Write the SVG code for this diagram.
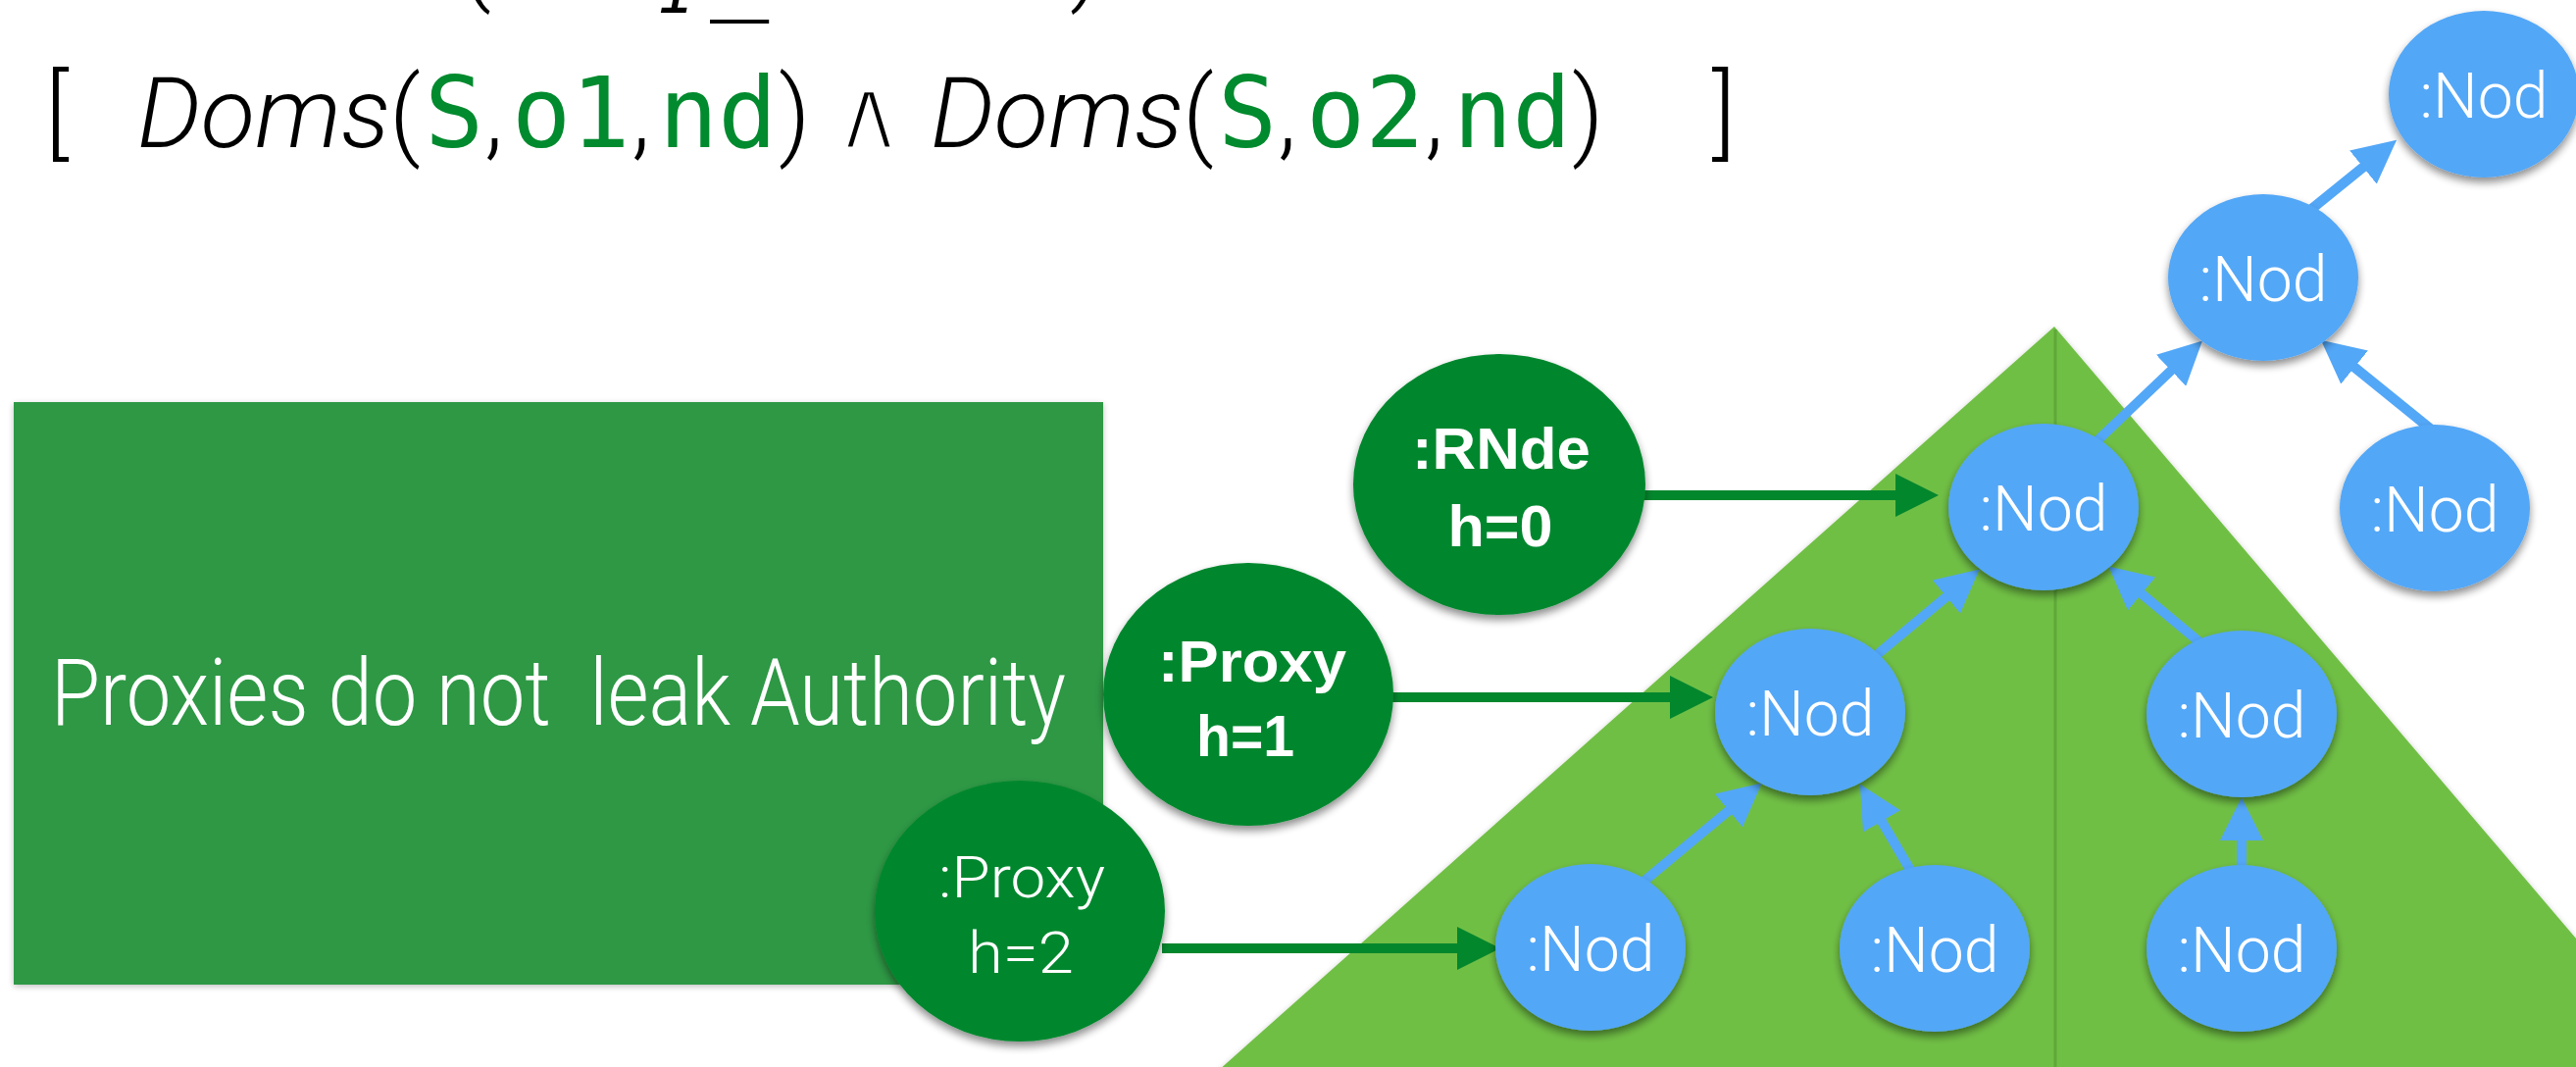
<svg xmlns="http://www.w3.org/2000/svg" width="2627" height="1088" viewBox="0 0 2627 1088">
  <defs>
    <style>
      .f-light { font-family: Roboto, "Liberation Sans", sans-serif; font-weight: 300; }
      .f-bold { font-family: "Liberation Sans", Arial, sans-serif; font-weight: bold; }
      .f-mono { font-family: "DejaVu Sans Mono", "Liberation Mono", monospace; }
      .formula { font-size: 100px; fill: #000; }
      .var { fill: #028A2E; }
      .nod { fill: #53A7F7; filter: url(#shadow); }
      .agent { fill: #03872D; filter: url(#shadow); }
      .label { fill: #fff; text-anchor: middle; }
      .blue-edge { stroke: #53A7F7; stroke-width: 10; fill: none; marker-end: url(#head-blue); }
      .green-edge { stroke: #03872D; stroke-width: 10; fill: none; marker-end: url(#head-green); }
    </style>
    <filter id="shadow" x="-20%" y="-20%" width="140%" height="150%">
      <feGaussianBlur in="SourceAlpha" stdDeviation="4"/>
      <feOffset dy="5" result="blur"/>
      <feComponentTransfer><feFuncA type="linear" slope="0.45"/></feComponentTransfer>
      <feMerge><feMergeNode/><feMergeNode in="SourceGraphic"/></feMerge>
    </filter>
    <filter id="soft" x="-5%" y="-5%" width="110%" height="110%">
      <feGaussianBlur in="SourceAlpha" stdDeviation="3"/>
      <feOffset dy="2"/>
      <feComponentTransfer><feFuncA type="linear" slope="0.25"/></feComponentTransfer>
      <feMerge><feMergeNode/><feMergeNode in="SourceGraphic"/></feMerge>
    </filter>
    <marker id="head-blue" viewBox="0 0 44 44" markerWidth="44" markerHeight="44" markerUnits="userSpaceOnUse" refX="4" refY="22" orient="auto">
      <path d="M0,0 L44,22 L0,44 z" fill="#53A7F7"/>
    </marker>
    <marker id="head-green" viewBox="0 0 44 44" markerWidth="44" markerHeight="44" markerUnits="userSpaceOnUse" refX="4" refY="22" orient="auto">
      <path d="M0,0 L44,22 L0,44 z" fill="#03872D"/>
    </marker>
  </defs>

  <rect width="2627" height="1088" fill="#fff"/>

  <!-- lower edge of the line above the formula -->
  <g id="line-above" class="formula">
    <text x="469" y="-8" class="f-light" font-size="100">(</text>
    <text x="670" y="13" class="f-mono" font-size="64" font-style="italic">1</text>
    <text x="724" y="0" class="f-mono" font-size="100">_</text>
    <text x="1091" y="-8" class="f-light" font-size="100">)</text>
  </g>

  <!-- formula -->
  <g id="formula" class="formula">
    <text x="46" y="150" class="f-light">[</text>
    <text x="140" y="150" class="f-light" font-style="italic" textLength="258" lengthAdjust="spacingAndGlyphs">Doms</text>
    <text x="397" y="150" class="f-light">(</text>
    <text x="433" y="150" class="f-mono var">S</text>
    <text x="494" y="150" class="f-light">,</text>
    <text x="522" y="150" class="f-mono var">o1</text>
    <text x="644" y="150" class="f-light">,</text>
    <text x="672" y="150" class="f-mono var">nd</text>
    <text x="794" y="150" class="f-light">)</text>
    <!-- white outline thins the heavy glyph down to a light stroke -->
    <text x="886" y="152" font-family="'DejaVu Sans', sans-serif" font-size="104" text-anchor="middle" stroke="#fff" stroke-width="5">∧</text>
    <text x="949" y="150" class="f-light" font-style="italic" textLength="258" lengthAdjust="spacingAndGlyphs">Doms</text>
    <text x="1206" y="150" class="f-light">(</text>
    <text x="1242" y="150" class="f-mono var">S</text>
    <text x="1303" y="150" class="f-light">,</text>
    <text x="1332" y="150" class="f-mono var">o2</text>
    <text x="1453" y="150" class="f-light">,</text>
    <text x="1482" y="150" class="f-mono var">nd</text>
    <text x="1603" y="150" class="f-light">)</text>
    <text x="1746" y="150" class="f-light">]</text>
  </g>

  <!-- caption panel -->
  <g id="caption">
    <rect x="14" y="410" width="1111" height="594" fill="#2E9844" filter="url(#soft)"/>
    <text x="52" y="739" class="f-light" font-size="94" fill="#fff" xml:space="preserve" style="white-space: pre" textLength="1035" lengthAdjust="spacingAndGlyphs">Proxies do not  leak Authority</text>
  </g>

  <!-- subtree region -->
  <g id="subtree">
    <polygon points="2095,333 2749,1100 1233,1100" fill="#70BF44" filter="url(#soft)"/>
    <line x1="2096" y1="336" x2="2096" y2="1088" stroke="#5FA83A" stroke-width="3"/>
  </g>

  <!-- connectors -->
  <g id="connectors">
    <line class="green-edge" x1="1670" y1="505" x2="1937" y2="505"/>
    <line class="green-edge" x1="1415" y1="711" x2="1707" y2="711"/>
    <line class="green-edge" x1="1185" y1="967" x2="1490" y2="967"/>

    <line class="blue-edge" x1="2350" y1="219" x2="2413" y2="168"/>
    <line class="blue-edge" x1="2135" y1="453" x2="2217" y2="375"/>
    <line class="blue-edge" x1="2482" y1="440" x2="2398" y2="372"/>
    <line class="blue-edge" x1="1910" y1="671" x2="1988" y2="606"/>
    <line class="blue-edge" x1="2247" y1="658" x2="2181" y2="603"/>
    <line class="blue-edge" x1="1670" y1="904" x2="1766" y2="824"/>
    <line class="blue-edge" x1="1951" y1="892" x2="1917" y2="834"/>
    <line class="blue-edge" x1="2286" y1="888" x2="2286" y2="853"/>
  </g>

  <!-- agents -->
  <g id="rnde">
    <ellipse class="agent" cx="1529" cy="494" rx="149" ry="133"/>
    <text class="label f-bold" x="1531" y="478" font-size="60" textLength="182" lengthAdjust="spacingAndGlyphs">:RNde</text>
    <text class="label f-bold" x="1530" y="557" font-size="60" textLength="107" lengthAdjust="spacingAndGlyphs">h=0</text>
  </g>
  <g id="proxy1">
    <ellipse class="agent" cx="1273" cy="708" rx="148" ry="134"/>
    <text class="label f-bold" x="1277" y="695" font-size="60" textLength="192" lengthAdjust="spacingAndGlyphs">:Proxy</text>
    <text class="label f-bold" x="1270" y="771" font-size="60" textLength="100" lengthAdjust="spacingAndGlyphs">h=1</text>
  </g>
  <g id="proxy2">
    <ellipse class="agent" cx="1040" cy="929" rx="148" ry="133"/>
    <text class="label f-light" x="1042" y="915" font-size="60" textLength="170" lengthAdjust="spacingAndGlyphs">:Proxy</text>
    <text class="label f-light" x="1041" y="992" font-size="60" textLength="108" lengthAdjust="spacingAndGlyphs">h=2</text>
  </g>

  <!-- nodes -->
  <g id="nod-top">
    <ellipse class="nod" cx="2533" cy="96" rx="97" ry="85"/>
    <text class="label f-light" x="2533" y="120" font-size="64" textLength="131" lengthAdjust="spacingAndGlyphs">:Nod</text>
  </g>
  <g id="nod-t1">
    <ellipse class="nod" cx="2308" cy="283" rx="97" ry="85"/>
    <text class="label f-light" x="2308" y="307" font-size="64" textLength="131" lengthAdjust="spacingAndGlyphs">:Nod</text>
  </g>
  <g id="nod-a">
    <ellipse class="nod" cx="2084" cy="517" rx="97" ry="85"/>
    <text class="label f-light" x="2084" y="541" font-size="64" textLength="131" lengthAdjust="spacingAndGlyphs">:Nod</text>
  </g>
  <g id="nod-r">
    <ellipse class="nod" cx="2483" cy="518" rx="97" ry="85"/>
    <text class="label f-light" x="2483" y="542" font-size="64" textLength="131" lengthAdjust="spacingAndGlyphs">:Nod</text>
  </g>
  <g id="nod-b">
    <ellipse class="nod" cx="1846" cy="726" rx="97" ry="85"/>
    <text class="label f-light" x="1846" y="750" font-size="64" textLength="131" lengthAdjust="spacingAndGlyphs">:Nod</text>
  </g>
  <g id="nod-c">
    <ellipse class="nod" cx="2286" cy="728" rx="97" ry="85"/>
    <text class="label f-light" x="2286" y="752" font-size="64" textLength="131" lengthAdjust="spacingAndGlyphs">:Nod</text>
  </g>
  <g id="nod-d">
    <ellipse class="nod" cx="1622" cy="966" rx="97" ry="85"/>
    <text class="label f-light" x="1622" y="990" font-size="64" textLength="131" lengthAdjust="spacingAndGlyphs">:Nod</text>
  </g>
  <g id="nod-e">
    <ellipse class="nod" cx="1973" cy="967" rx="97" ry="85"/>
    <text class="label f-light" x="1973" y="991" font-size="64" textLength="131" lengthAdjust="spacingAndGlyphs">:Nod</text>
  </g>
  <g id="nod-f">
    <ellipse class="nod" cx="2286" cy="967" rx="97" ry="85"/>
    <text class="label f-light" x="2286" y="991" font-size="64" textLength="131" lengthAdjust="spacingAndGlyphs">:Nod</text>
  </g>
</svg>
